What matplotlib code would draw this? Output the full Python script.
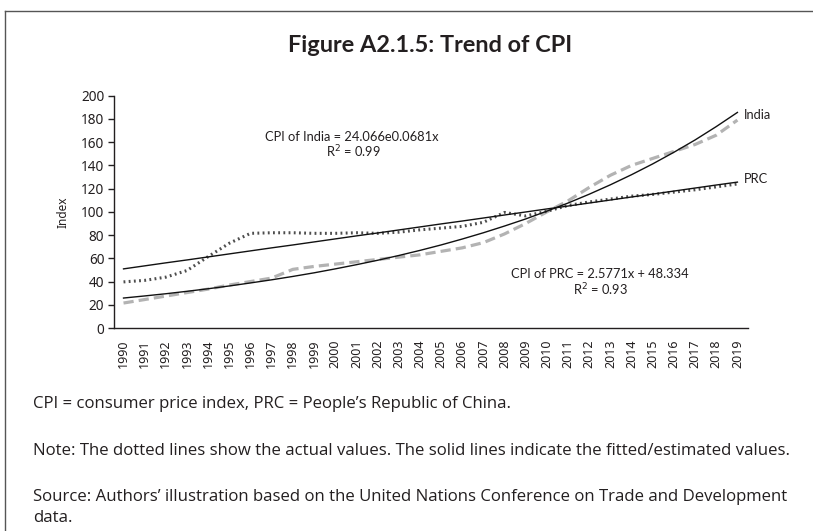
import matplotlib
matplotlib.use("Agg")
import matplotlib.pyplot as plt
from matplotlib.lines import Line2D
import numpy as np

years = list(range(1990, 2020))
year_labels = [str(y) for y in years]

prc_actual = [39.7, 41.0, 43.8, 49.5, 61.5, 73.0, 81.5, 82.0, 82.0, 81.5,
              81.5, 82.0, 81.5, 82.5, 84.5, 86.0, 87.5, 91.0, 99.5, 96.5,
              100.5, 105.5, 108.5, 111.0, 113.5, 115.0, 117.0, 119.0, 121.5, 124.0]
prc_fitted = [50.9, 53.5, 56.1, 58.6, 61.2, 63.8, 66.4, 69.0, 71.5, 74.1,
              76.7, 79.3, 81.8, 84.4, 87.0, 89.6, 92.1, 94.7, 97.3, 99.9,
              102.5, 105.0, 107.6, 110.2, 112.8, 115.3, 117.9, 120.5, 123.1, 125.6]
india_actual = [21.5, 24.5, 27.5, 30.5, 33.5, 37.0, 40.0, 43.0, 50.5, 53.0,
                55.0, 57.0, 59.0, 61.0, 63.0, 66.0, 69.0, 73.5, 81.0, 90.0,
                100.0, 109.5, 121.0, 131.5, 140.0, 146.0, 152.0, 158.0, 166.0, 179.0]
india_fitted = [25.8, 27.6, 29.5, 31.6, 33.8, 36.2, 38.8, 41.5, 44.4, 47.5,
                50.9, 54.5, 58.3, 62.4, 66.8, 71.5, 76.6, 82.0, 87.8, 93.9,
                100.6, 107.6, 115.2, 123.3, 132.0, 141.3, 151.3, 161.9, 173.4, 185.6]

yticks = [0, 20, 40, 60, 80, 100, 120, 140, 160, 180, 200]

TXT = "#231f20"
W, H = 813, 531
fig = plt.figure(figsize=(W / 100, H / 100), dpi=100)
fig.patch.set_facecolor("white")

# frame
fig.add_artist(Line2D([5 / W, 1.0], [1 - 11 / H, 1 - 11 / H], color="#555555", lw=1.0))
fig.add_artist(Line2D([5 / W, 5 / W], [1 - 11 / H, 0.0], color="#555555", lw=1.0))

fig.text(430 / W, 1 - 45 / H, "Figure A2.1.5: Trend of CPI", ha="center", va="center",
         fontsize=16.9, fontweight="bold", family="Lato", color=TXT)

ax = fig.add_axes([114 / W, 1 - 328 / H, (748 - 114) / W, (328 - 95.7) / H])
x = np.arange(len(years))

ax.plot(x, india_actual, color="#b3b3b3", lw=2.3, dashes=(3.2, 1.6), solid_capstyle="butt")
ax.plot(x, prc_actual, color="#4d4d4d", lw=2.2, dashes=(0.6, 1.1), dash_capstyle="butt")
ax.plot(x, india_fitted, color="#111111", lw=1.0)
ax.plot(x, prc_fitted, color="#111111", lw=1.0)

ax.set_xlim(-0.45, len(years) - 0.5)
ax.set_ylim(0, 200)
ax.set_yticks(yticks)
ax.set_yticklabels([str(v) for v in yticks], family="Noto Sans", fontsize=9.8, color=TXT)
ax.set_xticks(x)
ax.set_xticklabels(year_labels, rotation=90, family="Noto Sans", fontsize=9, color=TXT)
ax.tick_params(axis="x", length=0, pad=8)
ax.tick_params(axis="y", length=4, width=1, pad=3, color=TXT)
for s in ["top", "right"]:
    ax.spines[s].set_visible(False)
for s in ["left", "bottom"]:
    ax.spines[s].set_color(TXT)
    ax.spines[s].set_linewidth(1.0)
ax.set_ylabel("Index", family="Noto Sans", fontsize=8.5, color=TXT, labelpad=8)

def fx(px):
    return (px - 114) / (748 - 114)
def fy(py):
    return (328 - py) / (328 - 95.7)

kw = dict(transform=ax.transAxes, family="Lato", fontsize=9.3, color=TXT, va="center")
ax.text(fx(352), fy(137), "CPI of India = 24.066e0.0681x", ha="center", **kw)
ax.text(fx(353), fy(152), "R$^{2}$ = 0.99", ha="center", **kw)
ax.text(fx(600), fy(274), "CPI of PRC = 2.5771x + 48.334", ha="center", **kw)
ax.text(fx(601), fy(290), "R$^{2}$ = 0.93", ha="center", **kw)
ax.text(fx(744), fy(115), "India", ha="left", clip_on=False, **kw)
ax.text(fx(744), fy(179), "PRC", ha="left", clip_on=False, **kw)

notes = [
    (404, "CPI = consumer price index, PRC = People\u2019s Republic of China."),
    (451, "Note: The dotted lines show the actual values. The solid lines indicate the fitted/estimated values."),
    (497, "Source: Authors\u2019 illustration based on the United Nations Conference on Trade and Development"),
    (518, "data."),
]
for py, t in notes:
    fig.text(33 / W, 1 - py / H, t, ha="left", va="center", family="Open Sans",
             fontsize=12.1, color=TXT)

fig.savefig("out.png", dpi=100)
